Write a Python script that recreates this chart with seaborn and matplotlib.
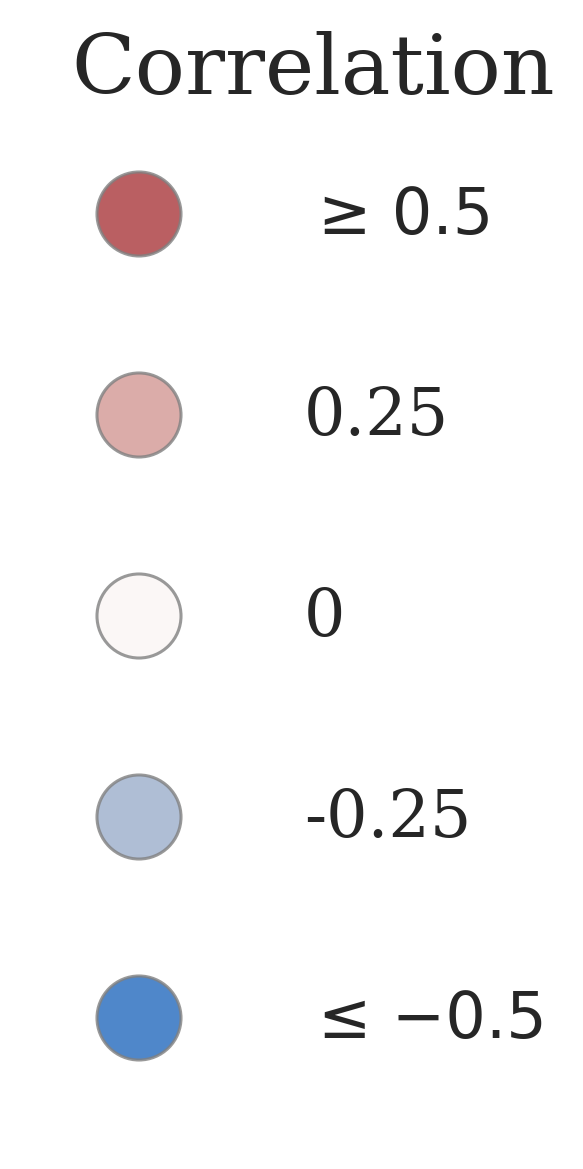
import matplotlib
matplotlib.use("Agg")
import matplotlib.pyplot as plt
import seaborn as sns
import pandas as pd

# Data
title = "Correlation"
levels = [0.5, 0.25, 0.0, -0.25, -0.5]
labels = ["≥ 0.5", "0.25", "0", "-0.25", "≤ −0.5"]

sns.set_theme(style="white")
plt.rcParams["font.family"] = ["DejaVu Serif", "DejaVu Sans"]

df = pd.DataFrame({"x": [0] * len(levels), "row": list(range(len(levels))), "level": levels})

fig = plt.figure(figsize=(5.83, 11.69), dpi=100)
ax = fig.add_axes([0, 0, 1, 1])
sns.scatterplot(data=df, x="x", y="row", hue="level", palette="vlag",
                hue_norm=(-0.5, 0.5), s=3660, alpha=0.8, edgecolor="0.5",
                linewidth=2.2, legend=False, ax=ax)

# pixel-like layout: x in px offset from circle centre, y in row units (201 px per row)
ax.set_xlim(-139, 583 - 139)
ax.set_ylim((1169 - 214) / 201, -214 / 201)
ax.set_axis_off()

ax.text(313 - 139, (94 - 214) / 201, title, ha="center", va="baseline",
        fontsize=60, color="#262626")
for i, lab in enumerate(labels):
    if lab[0] in "≥≤":
        ax.text(318 - 139, i + 20 / 201, lab, ha="left", va="baseline", fontsize=46,
                color="#262626", family="DejaVu Sans")
    else:
        ax.text(304 - 139, i + 20 / 201, lab, ha="left", va="baseline", fontsize=47,
                color="#262626")

fig.savefig("out.png", dpi=100)
